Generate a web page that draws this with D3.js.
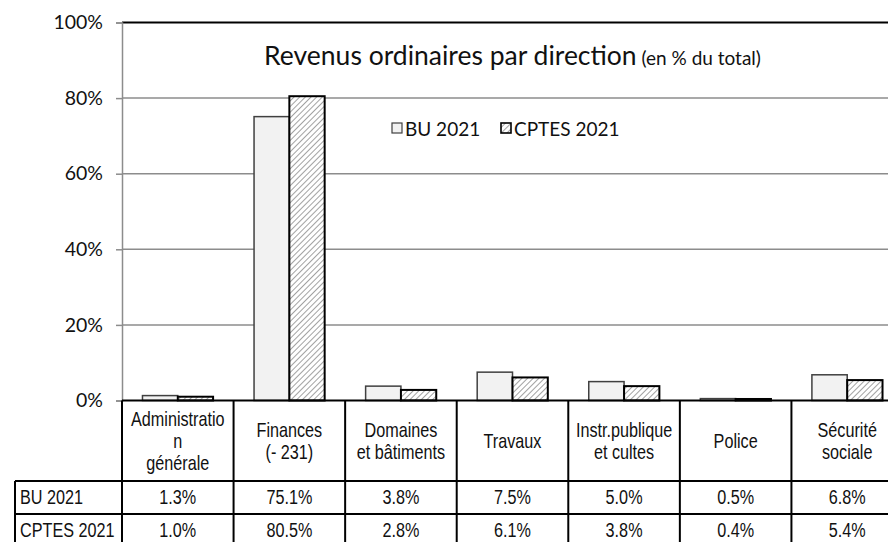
<!DOCTYPE html>
<html>
<head>
<meta charset="utf-8">
<script src="https://cdn.jsdelivr.net/npm/d3@7"></script>
<style>
  body { margin: 0; background: #fff; }
  svg { display: block; }
  .narrow { font-family: "Liberation Sans", Arial, sans-serif; }
  .humanist { font-family: Lato, "Open Sans", sans-serif; }
</style>
</head>
<body>
<div id="chart"></div>
<script>
// chart data
const categories = [
  ['Administratio', 'n', 'générale'],
  ['Finances', '(- 231)'],
  ['Domaines', 'et bâtiments'],
  ['Travaux'],
  ['Instr.publique', 'et cultes'],
  ['Police'],
  ['Sécurité', 'sociale']
];
const seriesNames = ['BU 2021', 'CPTES 2021'];
const bu2021 = [1.3, 75.1, 3.8, 7.5, 5.0, 0.5, 6.8];
const cptes2021 = [1.0, 80.5, 2.8, 6.1, 3.8, 0.4, 5.4];
const yTicks = [0, 20, 40, 60, 80, 100];

const W = 888, H = 542;
const plot = { left: 122, right: 903, top: 22.5, bottom: 400.5 };
const headerBottom = 481, rowH = 33, labelLeft = 15;
// no narrow face is installed, so squeeze the regular one horizontally
const squeeze = 0.79;

const svg = d3.select('#chart').append('svg')
  .attr('width', W)
  .attr('height', H);

// hatch pattern for the CPTES bars
const defs = svg.append('defs');
const pat = defs.append('pattern')
  .attr('id', 'hatch')
  .attr('patternUnits', 'userSpaceOnUse')
  .attr('width', 4).attr('height', 4)
  .attr('patternTransform', 'rotate(45)');
pat.append('rect').attr('width', 4).attr('height', 4).attr('fill', '#fff');
pat.append('line')
  .attr('x1', 0).attr('y1', 0).attr('x2', 0).attr('y2', 4)
  .attr('stroke', '#8a8a8a').attr('stroke-width', 1.6);

const keys = categories.map((c, i) => i);
const x = d3.scaleBand().domain(keys).range([plot.left, plot.right]).padding(0);
const xs = d3.scaleBand().domain(seriesNames).range([0, x.bandwidth()])
  .paddingInner(0).paddingOuter(0.58);
const y = d3.scaleLinear().domain([0, 100]).range([plot.bottom, plot.top]);

// gridlines
svg.append('g')
  .selectAll('line')
  .data(yTicks.filter(t => t > 0))
  .join('line')
  .attr('x1', plot.left).attr('x2', W)
  .attr('y1', d => y(d)).attr('y2', d => y(d))
  .attr('stroke', d => d === 100 ? '#000' : '#8c8c8c')
  .attr('stroke-width', d => d === 100 ? 2 : 1.5);

// y axis
const yAxis = svg.append('g')
  .attr('transform', `translate(${plot.left},0)`)
  .call(d3.axisLeft(y).tickValues(yTicks).tickSize(6).tickPadding(13).tickFormat(d => d + '%'));
yAxis.select('.domain').attr('stroke', '#8c8c8c').attr('stroke-width', 1.5);
yAxis.selectAll('.tick line').attr('stroke', '#8c8c8c').attr('stroke-width', 1.5);
yAxis.selectAll('.tick text')
  .attr('class', 'humanist')
  .attr('font-size', 19.5)
  .attr('fill', '#111');

// title
const title = svg.append('text')
  .attr('class', 'humanist')
  .attr('x', (plot.left + plot.right) / 2)
  .attr('y', 65)
  .attr('text-anchor', 'middle')
  .attr('fill', '#111');
title.append('tspan').attr('font-size', 26.5).text('Revenus ordinaires par direction');
title.append('tspan').attr('font-size', 19).text(' (en % du total)');

// bars
const seriesData = [bu2021, cptes2021];
const barStyle = [
  { fill: '#f2f2f2', stroke: '#404040', sw: 1.5 },
  { fill: 'url(#hatch)', stroke: '#000', sw: 2 }
];
seriesNames.forEach((name, s) => {
  svg.append('g')
    .selectAll('rect')
    .data(seriesData[s])
    .join('rect')
    .attr('x', (d, i) => x(i) + xs(name))
    .attr('y', d => y(d))
    .attr('width', xs.bandwidth())
    .attr('height', d => y(0) - y(d))
    .attr('fill', barStyle[s].fill)
    .attr('stroke', barStyle[s].stroke)
    .attr('stroke-width', barStyle[s].sw);
});

// legend
const legend = svg.append('g').attr('class', 'humanist');
const legendX = [392, 501];
seriesNames.forEach((name, s) => {
  legend.append('rect')
    .attr('x', legendX[s]).attr('y', 123)
    .attr('width', 10).attr('height', 10)
    .attr('fill', barStyle[s].fill)
    .attr('stroke', barStyle[s].stroke)
    .attr('stroke-width', s === 0 ? 1.2 : 1.6);
  legend.append('text')
    .attr('x', legendX[s] + 13).attr('y', 136)
    .attr('font-size', 19)
    .attr('fill', '#111')
    .text(name);
});

// data table below the axis
const table = svg.append('g').attr('class', 'narrow');
const tableBottom = headerBottom + 2 * rowH + 2;
const fs = 20.5, lh = 21.7;

function narrowText(g, px, py, anchor) {
  return g.append('text')
    .attr('transform', `translate(${px},${py}) scale(${squeeze},1)`)
    .attr('text-anchor', anchor)
    .attr('font-size', fs)
    .attr('fill', '#111');
}

// category headers
categories.forEach((lines, i) => {
  const cx = x(i) + x.bandwidth() / 2;
  const cy = (plot.bottom + headerBottom) / 2;
  const t = narrowText(table, cx, cy, 'middle');
  lines.forEach((ln, k) => {
    t.append('tspan')
      .attr('x', 0)
      .attr('y', (k - (lines.length - 1) / 2) * lh + fs * 0.36)
      .text(ln);
  });
});

// row labels and values
seriesNames.forEach((name, s) => {
  const rowY = headerBottom + s * rowH;
  narrowText(table, labelLeft + 5, rowY + 23, 'start').text(name);
  seriesData[s].forEach((d, i) => {
    narrowText(table, x(i) + x.bandwidth() / 2, rowY + 23, 'middle')
      .text(d.toFixed(1) + '%');
  });
});

// table grid
const grid = svg.append('g')
  .attr('stroke', '#000')
  .attr('stroke-width', 2)
  .attr('fill', 'none');
grid.append('line')
  .attr('x1', plot.left).attr('x2', W)
  .attr('y1', plot.bottom).attr('y2', plot.bottom);
[headerBottom, headerBottom + rowH, tableBottom].forEach(yy => {
  grid.append('line')
    .attr('x1', labelLeft).attr('x2', W)
    .attr('y1', yy).attr('y2', yy);
});
grid.selectAll('.vline')
  .data(d3.range(categories.length + 1))
  .join('line')
  .attr('x1', i => plot.left + i * x.step())
  .attr('x2', i => plot.left + i * x.step())
  .attr('y1', plot.bottom).attr('y2', tableBottom);
grid.append('line')
  .attr('x1', labelLeft).attr('x2', labelLeft)
  .attr('y1', headerBottom).attr('y2', tableBottom);
</script>
</body>
</html>
